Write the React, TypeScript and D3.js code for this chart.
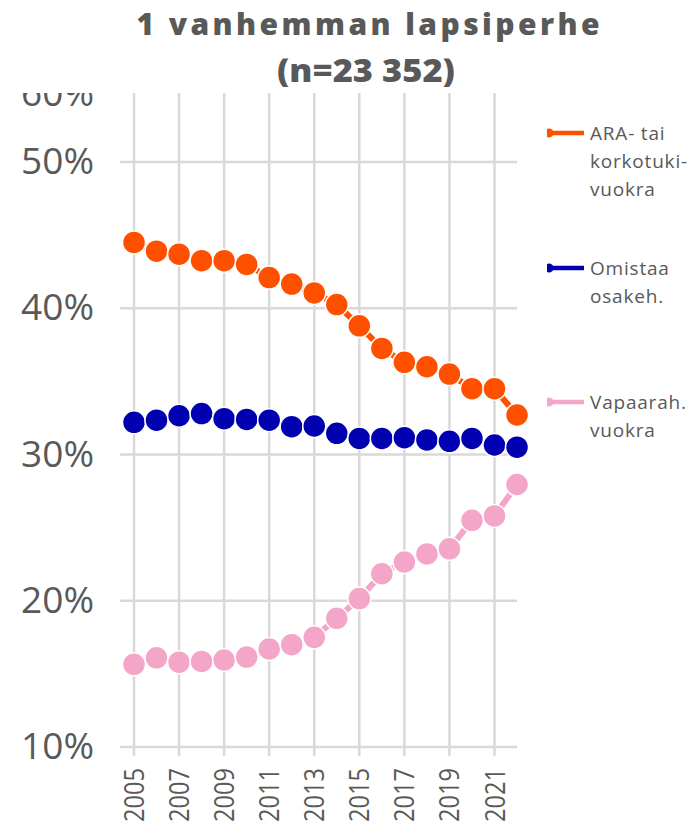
import React from "react";
import * as d3 from "d3";

const years = d3.range(2005, 2023);
const araValues = [44.5, 43.9, 43.7, 43.25, 43.25, 43.0, 42.1, 41.65, 41.05, 40.25, 38.8, 37.25, 36.3, 36.0, 35.5, 34.5, 34.5, 32.7];
const omistaaValues = [32.2, 32.35, 32.65, 32.8, 32.45, 32.4, 32.35, 31.9, 31.95, 31.45, 31.1, 31.1, 31.15, 31.0, 30.9, 31.1, 30.65, 30.5];
const vapaaValues = [15.65, 16.1, 15.8, 15.85, 15.95, 16.15, 16.7, 17.0, 17.5, 18.8, 20.15, 21.85, 22.65, 23.2, 23.55, 25.5, 25.8, 27.95];
const yTicks = [10, 20, 30, 40, 50];
const xTickYears = d3.range(2005, 2023, 2);

const series = [
  { name: "ara", values: araValues, color: "#FF5000", label: ["ARA- tai", "korkotuki-", "vuokra"], legendY: 133 },
  { name: "omistaa", values: omistaaValues, color: "#0000B0", label: ["Omistaa", "osakeh."], legendY: 268 },
  { name: "vapaa", values: vapaaValues, color: "#F4A6C8", label: ["Vapaarah.", "vuokra"], legendY: 402 },
];

const FONT = "'Open Sans', 'DejaVu Sans', sans-serif";
const GREY = "#595959";

export default function App() {
  const W = 691, H = 824;
  const x = d3.scaleLinear().domain([2005, 2021]).range([134, 494.5]);
  const y = d3.scaleLinear().domain([10, 50]).range([747, 162]);
  const line = d3.line<number>().x((_, i) => x(years[i])).y((d) => y(d));
  const plotLeft = 120, plotRight = 517, plotTop = 93;

  return (
    <svg width={W} height={H} style={{ position: "absolute", left: 0, top: 0, background: "#fff" }}>
      <defs>
        <clipPath id="topclip">
          <rect x={0} y={plotTop} width={W} height={H} />
        </clipPath>
        <clipPath id="legclip">
          <rect x={547} y={0} width={100} height={H} />
        </clipPath>
      </defs>
      <rect width={W} height={H} fill="#fff" />
      {yTicks.map((t) => (
        <line key={"h" + t} x1={plotLeft} x2={plotRight} y1={y(t)} y2={y(t)} stroke="#d9d9d9" strokeWidth={2.5} />
      ))}
      {xTickYears.map((yr) => (
        <line key={"v" + yr} x1={x(yr)} x2={x(yr)} y1={plotTop} y2={y(10) + 9} stroke="#d9d9d9" strokeWidth={2.5} />
      ))}
      {yTicks.map((t) => (
        <text key={"yl" + t} x={94} y={y(t) + 12} textAnchor="end" fontFamily={FONT} fontSize={37} fill={GREY}>
          {t}%
        </text>
      ))}
      <g clipPath="url(#topclip)">
        <text x={94} y={106} textAnchor="end" fontFamily={FONT} fontSize={37} fill={GREY}>60%</text>
      </g>
      {xTickYears.map((yr) => (
        <text
          key={"xl" + yr}
          transform={`translate(${x(yr) + 10},${768}) rotate(-90)`}
          textAnchor="end"
          fontFamily={FONT}
          fontSize={28}
          fill={GREY}
          textLength={54}
          lengthAdjust="spacingAndGlyphs"
        >
          {yr}
        </text>
      ))}
      {series.map((s) => (
        <g key={s.name}>
          <path d={line(s.values) || ""} fill="none" stroke={s.color} strokeWidth={6} />
          {s.values.map((v, i) => (
            <circle key={i} cx={x(years[i])} cy={y(v)} r={11.5} fill={s.color} stroke="#fff" strokeWidth={1.5} />
          ))}
        </g>
      ))}
      {series.map((s) => (
        <g key={"lg" + s.name}>
          <g clipPath="url(#legclip)">
            <line x1={548} x2={584} y1={s.legendY} y2={s.legendY} stroke={s.color} strokeWidth={4.5} />
            <circle cx={549} cy={s.legendY} r={4.5} fill={s.color} />
          </g>
          {s.label.map((l, j) => (
            <text key={j} x={590} y={s.legendY + 7 + j * 28} fontFamily={FONT} fontSize={19} letterSpacing={0.8} fill={GREY}>
              {l}
            </text>
          ))}
        </g>
      ))}
      <text x={368} y={35} textAnchor="middle" fontFamily={FONT} fontWeight={800} fontSize={30} fill={GREY} textLength={463} lengthAdjust="spacing">
        1 vanhemman lapsiperhe
      </text>
      <text x={366} y={82} textAnchor="middle" fontFamily={FONT} fontWeight={800} fontSize={31} fill={GREY} textLength={178} lengthAdjust="spacingAndGlyphs">
        (n=23 352)
      </text>
    </svg>
  );
}
